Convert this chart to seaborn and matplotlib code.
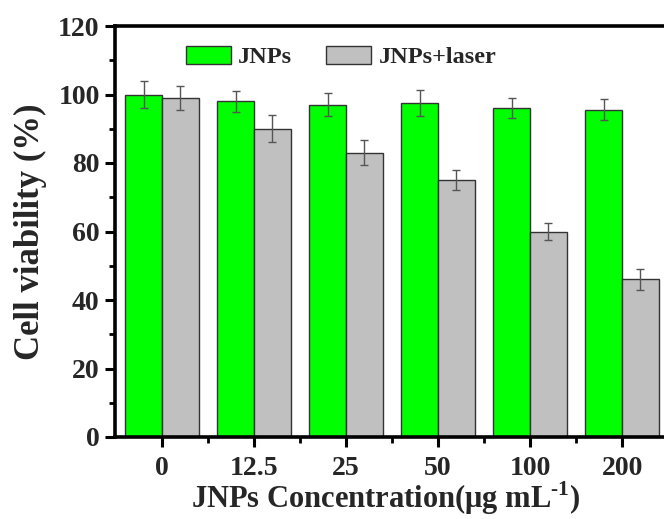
import numpy as np
import pandas as pd
import matplotlib
matplotlib.use("Agg")
import matplotlib.pyplot as plt
import seaborn as sns
from matplotlib.ticker import MultipleLocator, FixedLocator

# Cell viability data (mean and standard deviation)
concentrations = ["0", "12.5", "25", "50", "100", "200"]
groups = ["JNPs", "JNPs+laser"]
jnps_mean = [100.0, 98.0, 97.0, 97.4, 96.0, 95.6]
jnps_sd = [4.0, 3.0, 3.4, 3.8, 2.9, 3.0]
laser_mean = [99.0, 90.0, 83.0, 75.0, 60.0, 46.0]
laser_sd = [3.5, 4.0, 3.6, 3.0, 2.5, 3.0]
colors = ["#00FF00", "#C0C0C0"]

df = pd.DataFrame({
    "conc": concentrations * 2,
    "group": [groups[0]] * len(concentrations) + [groups[1]] * len(concentrations),
    "viability": jnps_mean + laser_mean,
})
sds = [jnps_sd, laser_sd]

sns.set_theme(style="ticks")
plt.rcParams["font.family"] = ["Liberation Serif", "DejaVu Serif"]
plt.rcParams["font.weight"] = "bold"
plt.rcParams["mathtext.fontset"] = "custom"
plt.rcParams["mathtext.rm"] = "Liberation Serif:bold"
plt.rcParams["mathtext.bf"] = "Liberation Serif:bold"

W, H = 664, 519
fig = plt.figure(figsize=(W / 100, H / 100), dpi=100)
ax = fig.add_axes([115 / W, 1 - 437 / H, (669 - 115) / W, (437 - 26) / H])

sns.barplot(data=df, x="conc", y="viability", hue="group", order=concentrations,
            hue_order=groups, palette=colors, width=0.8, errorbar=None,
            edgecolor="#333333", linewidth=1.0, saturation=1, ax=ax, legend=True)

# error bars centered on each drawn bar
for container, sd in zip(ax.containers, sds):
    xs = [p.get_x() + p.get_width() / 2 for p in container.patches]
    ys = [p.get_height() for p in container.patches]
    ax.errorbar(xs, ys, yerr=sd, fmt="none", ecolor="#555555", elinewidth=1.0,
                capsize=2.8, capthick=1.0, zorder=5)

ax.set_xlim(-0.51, 5.51)
ax.set_ylim(0, 120)
ax.yaxis.set_major_locator(MultipleLocator(20))
ax.yaxis.set_minor_locator(MultipleLocator(10))
ax.xaxis.set_minor_locator(FixedLocator(np.arange(0.5, 5.5, 1.0)))

for side in ["left", "bottom", "top"]:
    ax.spines[side].set_linewidth(2.6)
    ax.spines[side].set_color("black")
ax.spines["right"].set_visible(False)

ax.tick_params(axis="both", which="major", direction="out", length=7, width=2.2,
               labelsize=20, color="black", pad=4)
ax.tick_params(axis="both", which="minor", direction="out", length=4, width=2.0,
               color="black")
ax.tick_params(axis="x", which="major", pad=7)
for lab in ax.get_xticklabels() + ax.get_yticklabels():
    lab.set_fontweight("bold")

ax.set_xlabel(r"JNPs Concentration($\mathregular{\mu}$g mL$^{\text{-1}}$)",
              fontsize=22, fontweight="bold")
ax.xaxis.set_label_coords((386 - 115) / (669 - 115), -0.104)
ax.set_ylabel("Cell viability (%)", fontsize=25, fontweight="bold", labelpad=8)

handles, labels = ax.get_legend_handles_labels()
ax.legend(handles, labels, ncol=2, frameon=False, loc="upper left",
          bbox_to_anchor=(186 / W, 1 - 46 / H), bbox_transform=fig.transFigure,
          borderpad=0, borderaxespad=0, handlelength=1.85, handleheight=0.75,
          handletextpad=0.3, columnspacing=1.4,
          prop={"family": "Liberation Serif", "weight": "bold", "size": 17.5})

fig.savefig("out.png", dpi=100)
